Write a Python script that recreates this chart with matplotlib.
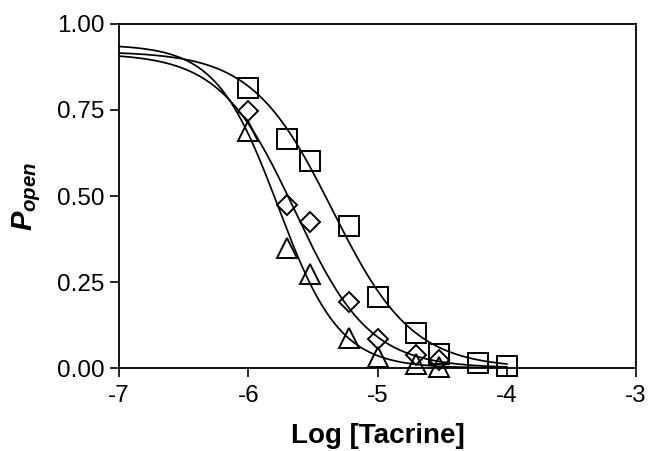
import numpy as np
import matplotlib
matplotlib.use("Agg")
import matplotlib.pyplot as plt

plt.rcParams['font.family'] = ['Liberation Sans', 'DejaVu Sans']
plt.rcParams['mathtext.fontset'] = 'custom'
plt.rcParams['mathtext.it'] = 'Liberation Sans:italic:bold'
plt.rcParams['mathtext.rm'] = 'Liberation Sans:bold'

# log concentrations of tacrine (M)
x_sq = [-6.0, -5.699, -5.523, -5.222, -5.0, -4.699, -4.523, -4.222, -4.0]
y_sq = [0.815, 0.665, 0.602, 0.412, 0.205, 0.102, 0.042, 0.016, 0.006]

x_dm = [-6.0, -5.699, -5.523, -5.222, -5.0, -4.699, -4.523]
y_dm = [0.748, 0.473, 0.425, 0.192, 0.083, 0.037, 0.022]

x_tr = [-6.0, -5.699, -5.523, -5.222, -5.0, -4.699, -4.523]
y_tr = [0.689, 0.348, 0.274, 0.086, 0.032, 0.011, 0.002]

# fitted Hill parameters: top, log IC50, slope
fit_sq = (0.92, -5.35, 1.4)
fit_dm = (0.915, -5.64, 1.5)
fit_tr = (0.94, -5.77, 1.82)


def hill(x, top, c, n):
    return top / (1 + 10 ** (n * (x - c)))


fig = plt.figure(figsize=(6.49, 4.51), dpi=100)
ax = fig.add_axes([0.1834, 0.184, 0.7966, 0.7628])

xx = np.linspace(-7, -4, 300)
for p in (fit_sq, fit_dm, fit_tr):
    ax.plot(xx, hill(xx, *p), color='black', lw=1.25)

mk = dict(ls='none', mfc='none', mec='black', mew=1.4, clip_on=False)
ax.plot(x_sq, y_sq, marker='s', ms=15, **mk)
ax.plot(x_dm, y_dm, marker='D', ms=10, **mk)
ax.plot(x_tr, y_tr, marker='^', ms=15, **mk)

ax.set_xlim(-7, -3)
ax.set_ylim(0, 1)
ax.set_xticks([-7, -6, -5, -4, -3])
ax.set_xticklabels(['-7', '-6', '-5', '-4', '-3'])
ax.set_yticks([0, 0.25, 0.5, 0.75, 1.0])
ax.set_yticklabels(['0.00', '0.25', '0.50', '0.75', '1.00'])
ax.tick_params(labelsize=17.5, length=6.5, width=1.2, direction='out', pad=4)
ax.tick_params(axis='x', pad=6)
for s in ax.spines.values():
    s.set_linewidth(1.3)

ax.set_xlabel('Log [Tacrine]', fontsize=20, fontweight='bold', labelpad=11)
ax.set_ylabel(r'$P_{open}$', fontsize=21, labelpad=10)

fig.savefig('out.png', dpi=100)
